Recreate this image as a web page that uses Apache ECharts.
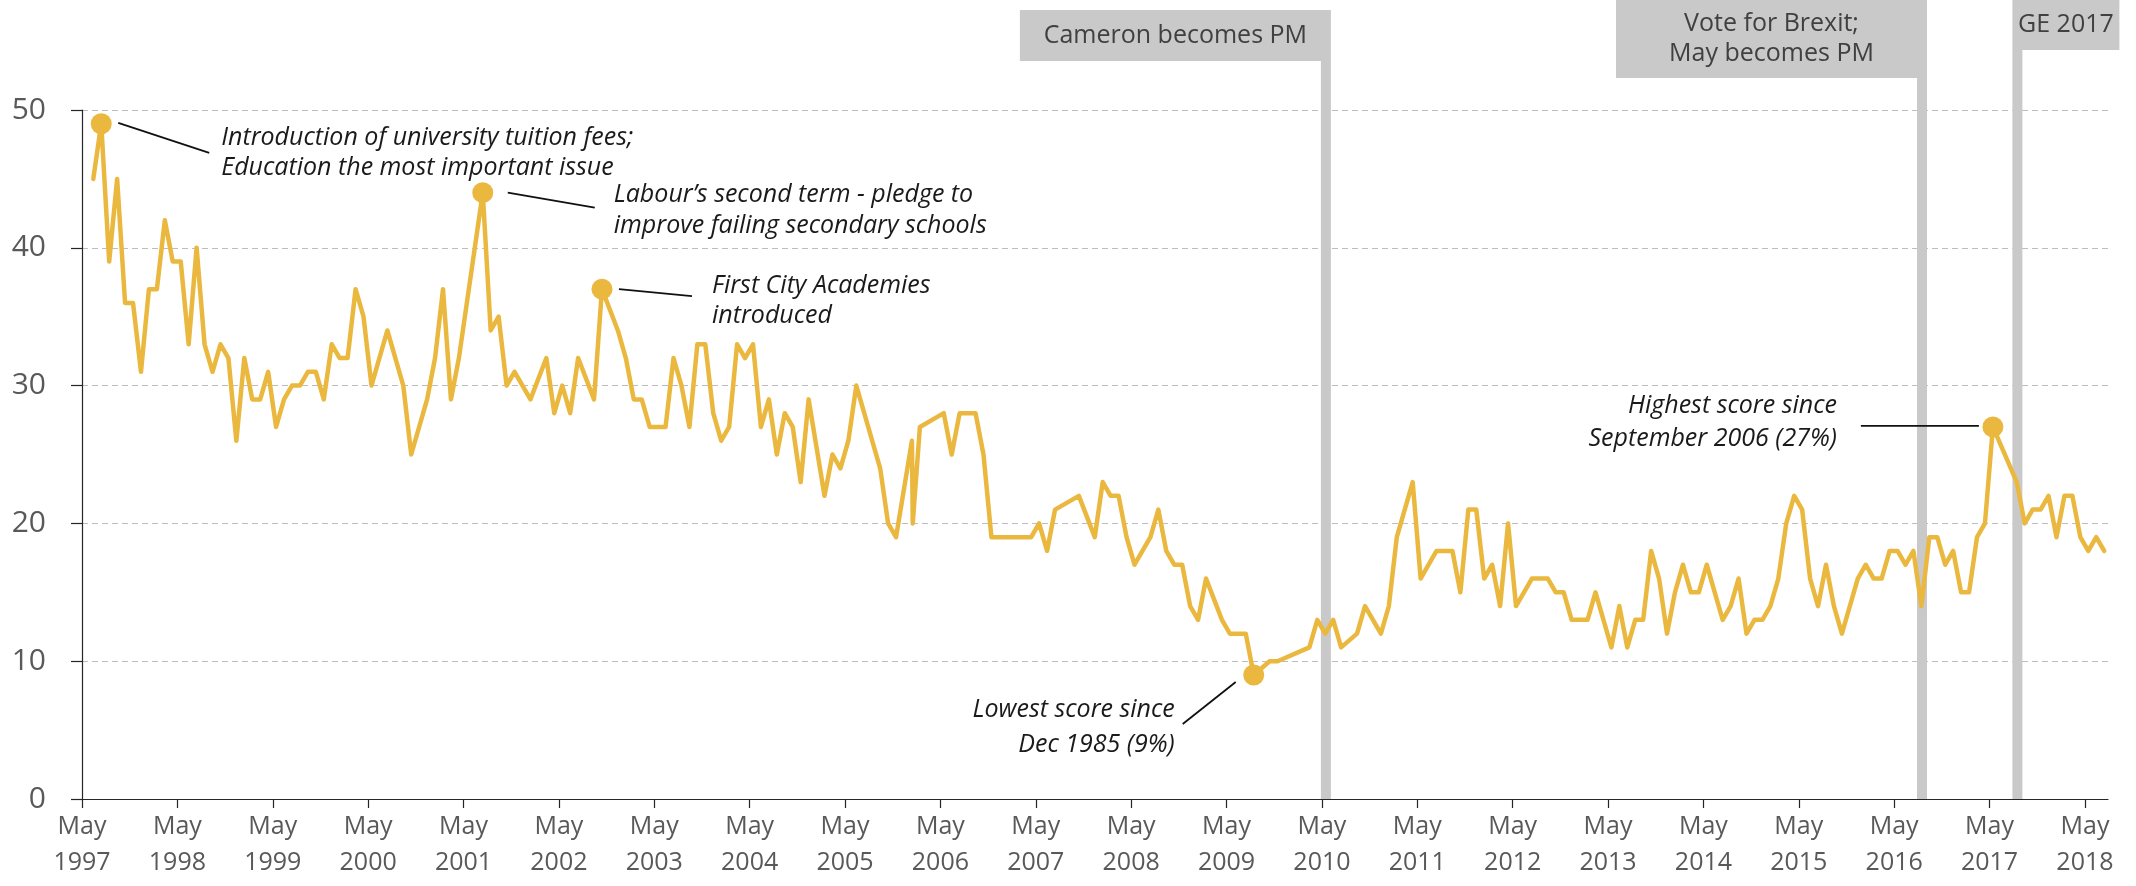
<!DOCTYPE html>
<html><head><meta charset="utf-8">
<script src="https://cdn.jsdelivr.net/npm/echarts@6/dist/echarts.min.js"></script>
<style>html,body{margin:0;padding:0;background:#fff}#chart{width:2136px;height:886px}</style>
</head><body><div id="chart"></div>
<script>
// ---- DATA ----
const surveyMonths = [
 '1997-06','1997-07','1997-08','1997-09','1997-10','1997-11','1997-12',
 '1998-01','1998-02','1998-03','1998-04','1998-05','1998-06','1998-07','1998-08','1998-09','1998-10','1998-11','1998-12',
 '1999-01','1999-02','1999-03','1999-04','1999-05','1999-06','1999-07','1999-08','1999-09','1999-10','1999-11','1999-12',
 '2000-01','2000-02','2000-03','2000-04','2000-05','2000-07','2000-09','2000-10','2000-12',
 '2001-01','2001-02','2001-03','2001-04','2001-07','2001-08','2001-09','2001-10','2001-11',
 '2002-01','2002-03','2002-04','2002-05','2002-06','2002-07','2002-09','2002-10','2002-12',
 '2003-01','2003-02','2003-03','2003-04','2003-05','2003-06','2003-07','2003-08','2003-09','2003-10','2003-11','2003-12',
 '2004-01','2004-02','2004-03','2004-04','2004-05','2004-06','2004-07','2004-08','2004-09','2004-10','2004-11','2004-12',
 '2005-02','2005-03','2005-04','2005-05','2005-06','2005-09','2005-10','2005-11',
 '2006-01','2006-01','2006-02','2006-05','2006-06','2006-07','2006-08','2006-09','2006-10','2006-11',
 '2007-04','2007-05','2007-06','2007-07','2007-10','2007-12',
 '2008-01','2008-02','2008-03','2008-04','2008-05','2008-07','2008-08','2008-09','2008-10','2008-11','2008-12',
 '2009-01','2009-02','2009-04','2009-05','2009-06','2009-07','2009-08','2009-10','2009-11',
 '2010-03','2010-04','2010-05','2010-06','2010-07','2010-09','2010-10','2010-11','2010-12',
 '2011-01','2011-02','2011-04','2011-05','2011-06','2011-07','2011-08','2011-09','2011-10','2011-11','2011-12',
 '2012-01','2012-02','2012-03','2012-04','2012-05','2012-06','2012-07','2012-08','2012-09','2012-10','2012-11','2012-12',
 '2013-01','2013-02','2013-03','2013-05','2013-06','2013-07','2013-08','2013-09','2013-10','2013-11','2013-12',
 '2014-01','2014-02','2014-03','2014-04','2014-05','2014-06','2014-07','2014-08','2014-09','2014-10','2014-11','2014-12',
 '2015-01','2015-02','2015-03','2015-04','2015-05','2015-06','2015-07','2015-08','2015-09','2015-10','2015-11','2015-12',
 '2016-01','2016-02','2016-03','2016-04','2016-05','2016-06','2016-07','2016-08','2016-09','2016-10','2016-11','2016-12',
 '2017-01','2017-02','2017-03','2017-04','2017-05','2017-08','2017-09','2017-10','2017-11','2017-12',
 '2018-01','2018-02','2018-03','2018-04','2018-05','2018-06','2018-07'
];
const educationScores = [
 45,49,39,45,36,36,31,
 37,37,42,39,39,33,40,33,31,33,32,26,
 32,29,29,31,27,29,30,30,31,31,29,33,
 32,32,37,35,30,34,30,25,29,
 32,37,29,32,44,34,35,30,31,
 29,32,28,30,28,32,29,37,34,
 32,29,29,27,27,27,32,30,27,33,33,28,
 26,27,33,32,33,27,29,25,28,27,23,29,
 22,25,24,26,30,24,20,19,
 26,20,27,28,25,28,28,28,25,19,
 19,20,18,21,22,19,
 23,22,22,19,17,19,21,18,17,17,14,
 13,16,13,12,12,12,9,10,10,
 11,13,12,13,11,12,14,13,12,
 14,19,23,16,17,18,18,18,15,21,21,
 16,17,14,20,14,15,16,16,16,15,15,13,
 13,13,15,11,14,11,13,13,18,16,12,
 15,17,15,15,17,15,13,14,16,12,13,13,
 14,16,20,22,21,16,14,17,14,12,14,16,
 17,16,16,18,18,17,18,14,19,19,17,18,
 15,15,19,20,27,23,20,21,21,22,
 19,22,22,19,18,19,18
];
const yTickValues = [0, 10, 20, 30, 40, 50];
const xTickYears = [1997,1998,1999,2000,2001,2002,2003,2004,2005,2006,2007,2008,2009,2010,2011,2012,2013,2014,2015,2016,2017,2018];
const xTickMonthLabel = 'May';

const eventMonths = ['2010-05', '2016-08', '2017-08'];
const eventLabels = ['Cameron becomes PM', 'Vote for Brexit;\nMay becomes PM', 'GE 2017'];

const annotationMonths = ['1997-07', '2001-07', '2002-10', '2009-08', '2017-05'];
const annotationTexts = [
 ['Introduction of university tuition fees;', 'Education the most important issue'],
 ['Labour\u2019s second term - pledge to', 'improve failing secondary schools'],
 ['First City Academies', 'introduced'],
 ['Lowest score since', 'Dec 1985 (9%)'],
 ['Highest score since', 'September 2006 (27%)']
];

// ---- STYLE / LAYOUT ----
const LINE_COLOR = '#EAB83F';
const GREY = '#C9C9C9';
const FONT = '"Open Sans", "Noto Sans", sans-serif';
const eventLayout = [
 {top: 10, height: 51, width: 311, anchor: 'right'},
 {top: 0, height: 78, width: 311, anchor: 'right'},
 {top: 0, height: 50, width: 107, anchor: 'left'}
];
const annotationLayout = [
 {start: [17, -1], end: [108, 29], tx: 120, align: 'left', ly: [14, 44]},
 {start: [25, 0], end: [112, 15], tx: 131, align: 'left', ly: [2, 33]},
 {start: [17, 0], end: [90, 7], tx: 110, align: 'left', ly: [-3, 27]},
 {start: [-18, 7], end: [-71, 49], tx: -79, align: 'right', ly: [35, 70]},
 {start: [-14, -1], end: [-132, -1], tx: -156, align: 'right', ly: [-21, 12]}
];
const MID_MONTH = 0.42;

function monthIndex(s) {
  const [y, m] = s.split('-').map(Number);
  return (y - 1997) * 12 + (m - 5);
}
// build series points (two surveys in one month are spread slightly)
const linePoints = [];
let prev = null;
surveyMonths.forEach((s, i) => {
  let x = monthIndex(s) + MID_MONTH;
  if (s === prev) x += 0.1;
  prev = s;
  linePoints.push([x, educationScores[i]]);
});
const scoreAt = (s) => educationScores[surveyMonths.indexOf(s)];

const xTicks = xTickYears.map(y => (y - 1997) * 12);
const chart = echarts.init(document.getElementById('chart'), null, {renderer: 'canvas'});

chart.setOption({
  animation: false,
  backgroundColor: '#fff',
  grid: {left: 82, right: 28, top: 110, bottom: 87},
  xAxis: {
    type: 'value', min: 0, max: 254.9, interval: 12,
    axisLine: {show: true, lineStyle: {color: '#262626', width: 1.2}},
    axisTick: {show: true, length: 9, lineStyle: {color: '#262626', width: 1.2}, customValues: xTicks},
    axisLabel: {
      customValues: xTicks, margin: 10, color: '#595959', fontFamily: FONT, fontSize: 25, lineHeight: 36,
      formatter: v => xTickMonthLabel + '\n' + (1997 + Math.round(v / 12))
    },
    splitLine: {show: false}
  },
  yAxis: {
    type: 'value', min: 0, max: 50, interval: 10,
    axisLine: {show: true, lineStyle: {color: '#262626', width: 1.2}},
    axisTick: {show: true, length: 11, lineStyle: {color: '#262626', width: 1.2}},
    axisLabel: {margin: 36, color: '#595959', fontFamily: FONT, fontSize: 30,
      formatter: v => yTickValues.includes(v) ? String(v) : ''},
    splitLine: {show: true, lineStyle: {color: '#BDBDBD', type: [6, 4], width: 1.2}}
  },
  series: [
    {
      type: 'custom', z: 1, clip: false, silent: true,
      data: eventMonths.map(s => [monthIndex(s) + 0.5, 0]),
      encode: {x: 0, y: 1},
      renderItem(params, api) {
        const i = params.dataIndex;
        const base = api.coord([api.value(0), 0]);
        const L = eventLayout[i];
        const barL = base[0] - 5, barR = base[0] + 5;
        const boxX = L.anchor === 'right' ? barR - L.width : barL;
        const boxBottom = L.top + L.height;
        return {type: 'group', children: [
          {type: 'rect', shape: {x: barL, y: boxBottom, width: 10, height: base[1] - boxBottom}, style: {fill: GREY}},
          {type: 'rect', shape: {x: boxX, y: L.top, width: L.width, height: L.height}, style: {fill: GREY}},
          {type: 'text', style: {text: eventLabels[i], x: boxX + L.width / 2, y: L.top + L.height / 2,
            align: 'center', verticalAlign: 'middle', font: '25px ' + FONT, fill: '#404040', lineHeight: 30}}
        ]};
      }
    },
    {
      type: 'line', z: 2, data: linePoints, showSymbol: false, symbol: 'none', silent: true,
      lineStyle: {color: LINE_COLOR, width: 4.5, join: 'round', cap: 'round'}
    },
    {
      type: 'custom', z: 3, clip: false, silent: true,
      data: annotationMonths.map(s => [monthIndex(s) + MID_MONTH, scoreAt(s)]),
      encode: {x: 0, y: 1},
      renderItem(params, api) {
        const i = params.dataIndex;
        const p = api.coord([api.value(0), api.value(1)]);
        const L = annotationLayout[i];
        const children = [
          {type: 'line', shape: {x1: p[0] + L.start[0], y1: p[1] + L.start[1], x2: p[0] + L.end[0], y2: p[1] + L.end[1]},
            style: {stroke: '#111', lineWidth: 1.8}},
          {type: 'circle', shape: {cx: p[0], cy: p[1], r: 10.5}, style: {fill: LINE_COLOR}}
        ];
        annotationTexts[i].forEach((t, j) => {
          children.push({type: 'text', style: {text: t, x: p[0] + L.tx, y: p[1] + L.ly[j], align: L.align,
            verticalAlign: 'middle', font: 'italic 25px ' + FONT, fill: '#1a1a1a'}});
        });
        return {type: 'group', children};
      }
    }
  ]
});
</script></body></html>
